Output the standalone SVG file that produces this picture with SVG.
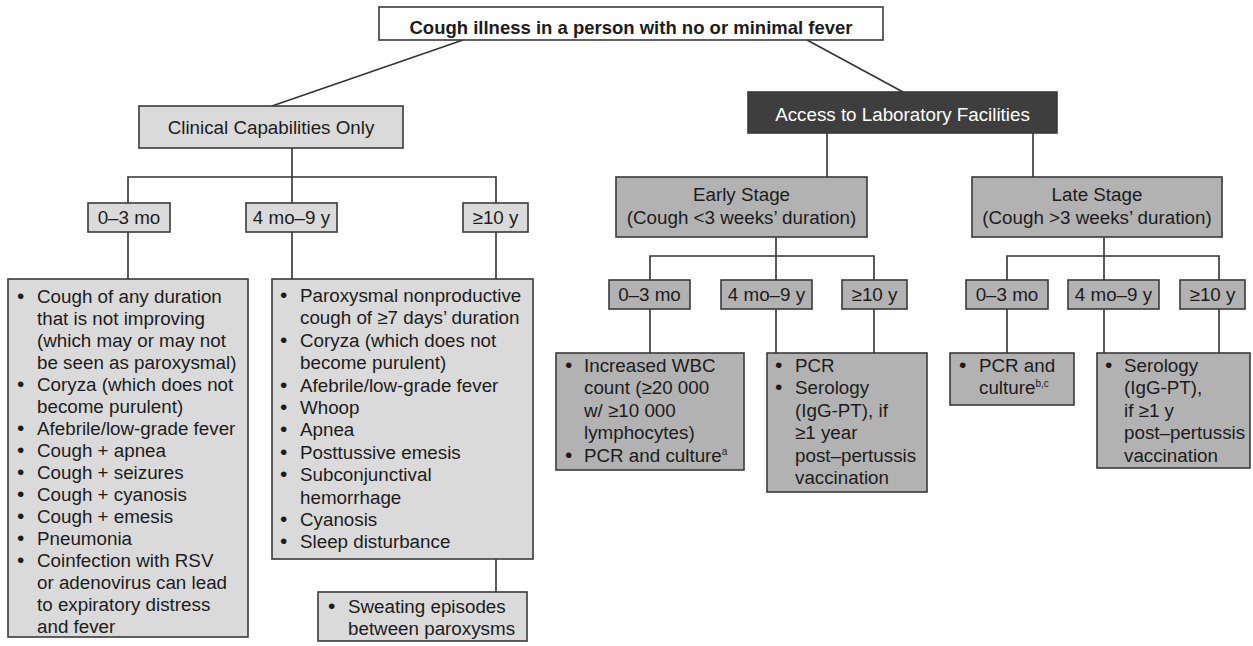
<svg xmlns="http://www.w3.org/2000/svg" width="1253" height="646" viewBox="0 0 1253 646">
<style>
text{font-family:"Liberation Sans",Arial,Helvetica,sans-serif;font-size:18.8px;fill:#1c1c1c}
.c{text-anchor:middle}
.b{font-weight:bold;font-size:18.5px}
.w{fill:#ffffff}
.box{stroke:#3a3a3a;stroke-width:1.6}
.white{fill:#ffffff}
.lt{fill:#dadada}
.dk{fill:#b2b2b2}
.blk{fill:#3e3e3e}
.conn path{fill:none;stroke:#333333;stroke-width:1.6}
.sup{font-size:10px}
.bl{font-size:21px}
</style>
<rect width="1253" height="646" fill="#ffffff"/>
<g class="conn" id="connectors">
<path d="M463 40 L272 106"/>
<path d="M807 40 L903 92"/>
<path d="M292 148 V203 M128 203 V177 H496 V203"/>
<path d="M128 232 V279"/>
<path d="M292 232 V279"/>
<path d="M496 232 V279"/>
<path d="M496 559 V592"/>
<path d="M827 133 V177"/>
<path d="M1033 133 V177"/>
<path d="M776 237 V280 M650 280 V256 H874 V280"/>
<path d="M650 309 V353"/>
<path d="M776 309 V353"/>
<path d="M874 309 V353"/>
<path d="M1104 237 V280 M1007 280 V256 H1219 V280"/>
<path d="M1007 309 V353"/>
<path d="M1104 309 V353"/>
<path d="M1219 309 V353"/>
</g>
<g id="root">
<rect class="box white" x="379" y="7" width="504" height="33"/>
<text class="c b" x="631" y="34">Cough illness in a person with no or minimal fever</text>
</g>
<g id="clinical">
<rect class="box lt" x="139" y="106" width="264" height="42"/>
<text class="c" x="271" y="134">Clinical Capabilities Only</text>
</g>
<g id="c-age1">
<rect class="box lt" x="88" y="203" width="82" height="29"/>
<text class="c" x="129" y="224">0–3 mo</text>
</g>
<g id="c-age2">
<rect class="box lt" x="246" y="203" width="91" height="29"/>
<text class="c" x="291.5" y="224">4 mo–9 y</text>
</g>
<g id="c-age3">
<rect class="box lt" x="463" y="203" width="65" height="29"/>
<text class="c" x="495.5" y="224">≥10 y</text>
</g>
<g id="c-infant">
<rect class="box lt" x="8" y="279" width="240" height="358"/>
<text class="bl" x="17" y="303">•</text><text x="37" y="303">Cough of any duration</text>
<text x="37" y="325">that is not improving</text>
<text x="37" y="347">(which may or may not</text>
<text x="37" y="369">be seen as paroxysmal)</text>
<text class="bl" x="17" y="391">•</text><text x="37" y="391">Coryza (which does not</text>
<text x="37" y="413">become purulent)</text>
<text class="bl" x="17" y="435">•</text><text x="37" y="435">Afebrile/low-grade fever</text>
<text class="bl" x="17" y="457">•</text><text x="37" y="457">Cough + apnea</text>
<text class="bl" x="17" y="479">•</text><text x="37" y="479">Cough + seizures</text>
<text class="bl" x="17" y="501">•</text><text x="37" y="501">Cough + cyanosis</text>
<text class="bl" x="17" y="523">•</text><text x="37" y="523">Cough + emesis</text>
<text class="bl" x="17" y="545">•</text><text x="37" y="545">Pneumonia</text>
<text class="bl" x="17" y="567">•</text><text x="37" y="567">Coinfection with RSV</text>
<text x="37" y="589">or adenovirus can lead</text>
<text x="37" y="611">to expiratory distress</text>
<text x="37" y="633">and fever</text>
</g>
<g id="c-older">
<rect class="box lt" x="272" y="279" width="261" height="280"/>
<text class="bl" x="280" y="302">•</text><text x="300" y="302">Paroxysmal nonproductive</text>
<text x="300" y="324.4">cough of ≥7 days’ duration</text>
<text class="bl" x="280" y="346.8">•</text><text x="300" y="346.8">Coryza (which does not</text>
<text x="300" y="369.2">become purulent)</text>
<text class="bl" x="280" y="391.6">•</text><text x="300" y="391.6">Afebrile/low-grade fever</text>
<text class="bl" x="280" y="414">•</text><text x="300" y="414">Whoop</text>
<text class="bl" x="280" y="436.4">•</text><text x="300" y="436.4">Apnea</text>
<text class="bl" x="280" y="458.8">•</text><text x="300" y="458.8">Posttussive emesis</text>
<text class="bl" x="280" y="481.2">•</text><text x="300" y="481.2">Subconjunctival</text>
<text x="300" y="503.6">hemorrhage</text>
<text class="bl" x="280" y="526">•</text><text x="300" y="526">Cyanosis</text>
<text class="bl" x="280" y="548.4">•</text><text x="300" y="548.4">Sleep disturbance</text>
</g>
<g id="c-sweat">
<rect class="box lt" x="318" y="592" width="209" height="49"/>
<text class="bl" x="328" y="613">•</text><text x="348" y="613">Sweating episodes</text>
<text x="348" y="635">between paroxysms</text>
</g>
<g id="lab">
<rect class="box blk" x="748" y="92" width="309" height="41"/>
<text class="c w" x="902.5" y="120.5">Access to Laboratory Facilities</text>
</g>
<g id="early">
<rect class="box dk" x="616" y="177" width="251" height="60"/>
<text class="c" x="741.5" y="201">Early Stage</text>
<text class="c" x="741.5" y="224">(Cough &lt;3 weeks’ duration)</text>
</g>
<g id="late">
<rect class="box dk" x="972" y="177" width="250" height="60"/>
<text class="c" x="1097" y="201">Late Stage</text>
<text class="c" x="1097" y="224">(Cough &gt;3 weeks’ duration)</text>
</g>
<g id="e-age1">
<rect class="box dk" x="609" y="280" width="81" height="29"/>
<text class="c" x="649.5" y="301">0–3 mo</text>
</g>
<g id="e-age2">
<rect class="box dk" x="721" y="280" width="91" height="29"/>
<text class="c" x="766.5" y="301">4 mo–9 y</text>
</g>
<g id="e-age3">
<rect class="box dk" x="842" y="280" width="65" height="29"/>
<text class="c" x="874.5" y="301">≥10 y</text>
</g>
<g id="e-infant">
<rect class="box dk" x="556" y="353" width="188" height="117"/>
<text class="bl" x="565" y="372">•</text><text x="584" y="372">Increased WBC</text>
<text x="584" y="394.4">count (≥20 000</text>
<text x="584" y="416.8">w/ ≥10 000</text>
<text x="584" y="439.2">lymphocytes)</text>
<text class="bl" x="565" y="461.6">•</text><text x="584" y="461.6">PCR and culture<tspan class="sup" dy="-7">a</tspan></text>
</g>
<g id="e-older">
<rect class="box dk" x="767" y="353" width="160" height="139"/>
<text class="bl" x="775" y="372">•</text><text x="795" y="372">PCR</text>
<text class="bl" x="775" y="394.4">•</text><text x="795" y="394.4">Serology</text>
<text x="795" y="416.8">(IgG-PT), if</text>
<text x="795" y="439.2">≥1 year</text>
<text x="795" y="461.6">post–pertussis</text>
<text x="795" y="484">vaccination</text>
</g>
<g id="l-age1">
<rect class="box dk" x="966" y="280" width="82" height="29"/>
<text class="c" x="1007" y="301">0–3 mo</text>
</g>
<g id="l-age2">
<rect class="box dk" x="1068" y="280" width="91" height="29"/>
<text class="c" x="1113.5" y="301">4 mo–9 y</text>
</g>
<g id="l-age3">
<rect class="box dk" x="1180" y="280" width="65" height="29"/>
<text class="c" x="1212.5" y="301">≥10 y</text>
</g>
<g id="l-infant">
<rect class="box dk" x="950" y="353" width="124" height="52"/>
<text class="bl" x="959" y="372">•</text><text x="979" y="372">PCR and</text>
<text x="979" y="394.4">culture<tspan class="sup" dy="-7">b,c</tspan></text>
</g>
<g id="l-older">
<rect class="box dk" x="1097" y="353" width="153" height="115"/>
<text class="bl" x="1105" y="372">•</text><text x="1124" y="372">Serology</text>
<text x="1124" y="394.4">(IgG-PT),</text>
<text x="1124" y="416.8">if ≥1 y</text>
<text x="1124" y="439.2">post–pertussis</text>
<text x="1124" y="461.6">vaccination</text>
</g>
</svg>
